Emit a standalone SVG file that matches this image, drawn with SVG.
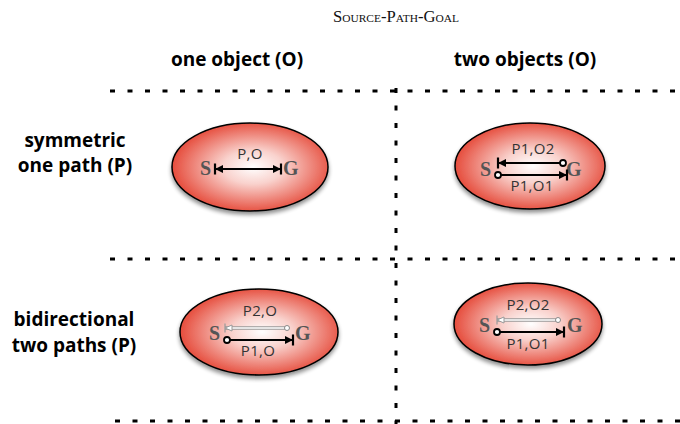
<svg xmlns="http://www.w3.org/2000/svg" width="680" height="424" viewBox="0 0 680 424">
<style>
.grid{stroke:#000;stroke-width:3;stroke-dasharray:5 12.5;fill:none}
.title{font-family:"Liberation Serif",serif;font-size:16px;font-variant:small-caps;fill:#111}
.hdr{font-family:"Open Sans","Liberation Sans",sans-serif;font-weight:bold;font-size:19px;fill:#000;text-anchor:middle}
.ell{fill:url(#rg);stroke:#000;stroke-width:1.5;filter:url(#sh)}
.sg{font-family:"Liberation Serif",serif;font-weight:bold;font-size:20px;fill:#555}
.lbl{font-family:"Open Sans","Liberation Sans",sans-serif;font-size:15px;fill:#333;text-anchor:middle;letter-spacing:0.3px}
.blk{stroke:#000;stroke-width:2;fill:none}
.gry{stroke:#999;stroke-width:3.5;fill:none}
.gryin{stroke:#fff;stroke-width:1.5;fill:none}
</style>
<defs>
<radialGradient id="rg" cx="0.52" cy="0.5" r="0.55">
<stop offset="0" stop-color="#ffffff"/>
<stop offset="0.35" stop-color="#f9d2cd"/>
<stop offset="1" stop-color="#e4402f"/>
</radialGradient>
<filter id="sh" x="-20%" y="-20%" width="140%" height="150%">
<feGaussianBlur in="SourceAlpha" stdDeviation="2"/>
<feOffset dy="3" result="b"/>
<feComponentTransfer><feFuncA type="linear" slope="0.45"/></feComponentTransfer>
<feMerge><feMergeNode/><feMergeNode in="SourceGraphic"/></feMerge>
</filter>
<marker id="ab" markerUnits="userSpaceOnUse" markerWidth="14" markerHeight="14" viewBox="-11 -7 14 14" refX="0" refY="0" orient="auto-start-reverse">
<polygon points="0,0 -8,-4 -8,4" fill="#000"/>
<line x1="0" y1="-5.5" x2="0" y2="5.5" stroke="#000" stroke-width="2.2"/>
</marker>
<marker id="ci" markerUnits="userSpaceOnUse" markerWidth="10" markerHeight="10" viewBox="-5 -5 10 10" refX="0" refY="0" orient="auto">
<circle r="3" fill="#fff" stroke="#000" stroke-width="1.8"/>
</marker>
<marker id="gab" markerUnits="userSpaceOnUse" markerWidth="12" markerHeight="12" viewBox="-10 -6 12 12" refX="0" refY="0" orient="auto">
<polygon points="0,0 -7,-3 -7,3" fill="#fff" stroke="#999" stroke-width="1"/>
<line x1="0" y1="-4.5" x2="0" y2="4.5" stroke="#999" stroke-width="1.2"/>
</marker>
<marker id="gci" markerUnits="userSpaceOnUse" markerWidth="10" markerHeight="10" viewBox="-5 -5 10 10" refX="0" refY="0" orient="auto">
<circle r="2.5" fill="#fff" stroke="#888" stroke-width="1"/>
</marker>
</defs>
<rect width="680" height="424" fill="#fff"/>
<text class="title" x="396" y="22" text-anchor="middle" textLength="126" lengthAdjust="spacingAndGlyphs">Source-Path-Goal</text>
<g id="headers">
<text class="hdr" x="237" y="66">one object (O)</text>
<text class="hdr" x="525" y="66">two objects (O)</text>
<text class="hdr" x="75" y="147">symmetric</text>
<text class="hdr" x="75" y="172">one path (P)</text>
<text class="hdr" x="74" y="326">bidirectional</text>
<text class="hdr" x="74" y="352">two paths (P)</text>
</g>
<g id="grid">
<line class="grid" x1="110" y1="91" x2="680" y2="91"/>
<line class="grid" x1="110" y1="259" x2="680" y2="259"/>
<line class="grid" x1="115" y1="421" x2="680" y2="421"/>
<line class="grid" x1="396" y1="88" x2="396" y2="424"/>
</g>
<g id="node-sym-one">
<ellipse class="ell" cx="250" cy="167" rx="78" ry="44"/>
<text class="lbl" x="250" y="159">P,O</text>
<text class="sg" x="211" y="175" text-anchor="end">S</text>
<text class="sg" x="283" y="175">G</text>
</g>
<g id="node-sym-two">
<ellipse class="ell" cx="530" cy="166" rx="75" ry="43"/>
<text class="lbl" x="533" y="154">P1,O2</text>
<text class="sg" x="491" y="176" text-anchor="end">S</text>
<text class="sg" x="566" y="176">G</text>
<text class="lbl" x="532" y="191">P1,O1</text>
</g>
<g id="node-bi-one">
<ellipse class="ell" cx="259" cy="332" rx="79" ry="43"/>
<text class="lbl" x="260" y="316">P2,O</text>
<text class="sg" x="220" y="340" text-anchor="end">S</text>
<text class="sg" x="295" y="340">G</text>
<text class="lbl" x="258" y="356">P1,O</text>
</g>
<g id="node-bi-two">
<ellipse class="ell" cx="528" cy="324" rx="74" ry="41"/>
<text class="lbl" x="528" y="310">P2,O2</text>
<text class="sg" x="490" y="332" text-anchor="end">S</text>
<text class="sg" x="567" y="332">G</text>
<text class="lbl" x="528" y="349">P1,O1</text>
</g>
<g id="connectors">
<path class="blk" d="M215,169 L281,169" marker-start="url(#ab)" marker-end="url(#ab)"/>
<path class="blk" d="M563,163 L498,163" marker-start="url(#ci)" marker-end="url(#ab)"/>
<path class="blk" d="M498,175 L567,175" marker-start="url(#ci)" marker-end="url(#ab)"/>
<path class="gry" d="M287,328 L225,328"/>
<path class="gryin" d="M287,328 L225,328" marker-start="url(#gci)" marker-end="url(#gab)"/>
<path class="blk" d="M227,340 L293,340" marker-start="url(#ci)" marker-end="url(#ab)"/>
<path class="gry" d="M558,320 L497,320"/>
<path class="gryin" d="M558,320 L497,320" marker-start="url(#gci)" marker-end="url(#gab)"/>
<path class="blk" d="M497,332 L564,332" marker-start="url(#ci)" marker-end="url(#ab)"/>
</g>
</svg>
